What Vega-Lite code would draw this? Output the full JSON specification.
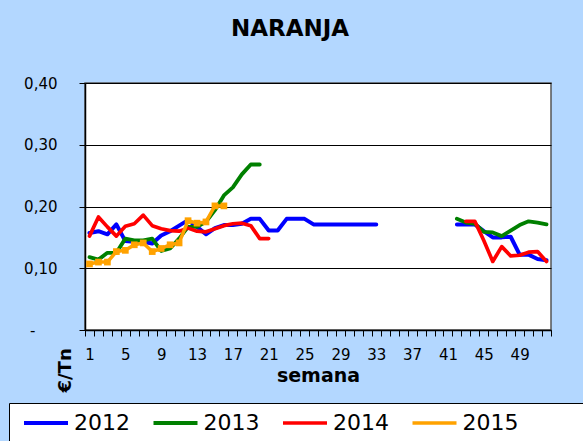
{
  "$schema": "https://vega.github.io/schema/vega-lite/v6.json",
  "width": 466,
  "height": 247,
  "autosize": {"type": "none"},
  "padding": {"left": 85, "top": 83, "right": 32, "bottom": 111},
  "background": "#B3D7FF",
  "title": {"text": "NARANJA", "font": "DejaVu Sans", "fontSize": 23, "fontWeight": "bold", "color": "black", "anchor": "middle", "dx": -28, "offset": 17, "baseline": "alphabetic"},
  "config": {
    "font": "DejaVu Sans",
    "view": {"fill": "white", "stroke": "#555555", "strokeWidth": 1.5},
    "legend": {
      "orient": "none",
      "direction": "horizontal",
      "padding": 9,
      "symbolType": "stroke",
      "symbolSize": 1936,
      "symbolOffset": 4,
      "clipHeight": 22,
      "labelFont": "DejaVu Sans",
      "labelFontSize": 22,
      "labelColor": "black",
      "labelOffset": 4,
      "columnPadding": 17.5,
      "fillColor": "white",
      "strokeColor": "black",
      "titleOrient": "right",
      "titlePadding": 110,
      "titleFontSize": 10
    }
  },
  "data": {"values": [
    {"year": "2012", "part": 1, "week": 1, "price": 0.157},
    {"year": "2012", "part": 1, "week": 2, "price": 0.160},
    {"year": "2012", "part": 1, "week": 3, "price": 0.155},
    {"year": "2012", "part": 1, "week": 4, "price": 0.171},
    {"year": "2012", "part": 1, "week": 5, "price": 0.144},
    {"year": "2012", "part": 1, "week": 6, "price": 0.143},
    {"year": "2012", "part": 1, "week": 7, "price": 0.143},
    {"year": "2012", "part": 1, "week": 8, "price": 0.140},
    {"year": "2012", "part": 1, "week": 9, "price": 0.153},
    {"year": "2012", "part": 1, "week": 10, "price": 0.160},
    {"year": "2012", "part": 1, "week": 11, "price": 0.169},
    {"year": "2012", "part": 1, "week": 12, "price": 0.178},
    {"year": "2012", "part": 1, "week": 13, "price": 0.167},
    {"year": "2012", "part": 1, "week": 14, "price": 0.155},
    {"year": "2012", "part": 1, "week": 15, "price": 0.165},
    {"year": "2012", "part": 1, "week": 16, "price": 0.170},
    {"year": "2012", "part": 1, "week": 17, "price": 0.170},
    {"year": "2012", "part": 1, "week": 18, "price": 0.172},
    {"year": "2012", "part": 1, "week": 19, "price": 0.180},
    {"year": "2012", "part": 1, "week": 20, "price": 0.180},
    {"year": "2012", "part": 1, "week": 21, "price": 0.161},
    {"year": "2012", "part": 1, "week": 22, "price": 0.161},
    {"year": "2012", "part": 1, "week": 23, "price": 0.180},
    {"year": "2012", "part": 1, "week": 24, "price": 0.180},
    {"year": "2012", "part": 1, "week": 25, "price": 0.180},
    {"year": "2012", "part": 1, "week": 26, "price": 0.171},
    {"year": "2012", "part": 1, "week": 27, "price": 0.171},
    {"year": "2012", "part": 1, "week": 28, "price": 0.171},
    {"year": "2012", "part": 1, "week": 29, "price": 0.171},
    {"year": "2012", "part": 1, "week": 30, "price": 0.171},
    {"year": "2012", "part": 1, "week": 31, "price": 0.171},
    {"year": "2012", "part": 1, "week": 32, "price": 0.171},
    {"year": "2012", "part": 1, "week": 33, "price": 0.171},
    {"year": "2012", "part": 2, "week": 42, "price": 0.171},
    {"year": "2012", "part": 2, "week": 43, "price": 0.171},
    {"year": "2012", "part": 2, "week": 44, "price": 0.171},
    {"year": "2012", "part": 2, "week": 45, "price": 0.160},
    {"year": "2012", "part": 2, "week": 46, "price": 0.150},
    {"year": "2012", "part": 2, "week": 47, "price": 0.150},
    {"year": "2012", "part": 2, "week": 48, "price": 0.151},
    {"year": "2012", "part": 2, "week": 49, "price": 0.122},
    {"year": "2012", "part": 2, "week": 50, "price": 0.122},
    {"year": "2012", "part": 2, "week": 51, "price": 0.115},
    {"year": "2012", "part": 2, "week": 52, "price": 0.113},
    {"year": "2013", "part": 1, "week": 1, "price": 0.118},
    {"year": "2013", "part": 1, "week": 2, "price": 0.114},
    {"year": "2013", "part": 1, "week": 3, "price": 0.125},
    {"year": "2013", "part": 1, "week": 4, "price": 0.125},
    {"year": "2013", "part": 1, "week": 5, "price": 0.148},
    {"year": "2013", "part": 1, "week": 6, "price": 0.145},
    {"year": "2013", "part": 1, "week": 7, "price": 0.145},
    {"year": "2013", "part": 1, "week": 8, "price": 0.148},
    {"year": "2013", "part": 1, "week": 9, "price": 0.128},
    {"year": "2013", "part": 1, "week": 10, "price": 0.132},
    {"year": "2013", "part": 1, "week": 11, "price": 0.148},
    {"year": "2013", "part": 1, "week": 12, "price": 0.167},
    {"year": "2013", "part": 1, "week": 13, "price": 0.167},
    {"year": "2013", "part": 1, "week": 14, "price": 0.175},
    {"year": "2013", "part": 1, "week": 15, "price": 0.194},
    {"year": "2013", "part": 1, "week": 16, "price": 0.218},
    {"year": "2013", "part": 1, "week": 17, "price": 0.231},
    {"year": "2013", "part": 1, "week": 18, "price": 0.252},
    {"year": "2013", "part": 1, "week": 19, "price": 0.268},
    {"year": "2013", "part": 1, "week": 20, "price": 0.268},
    {"year": "2013", "part": 2, "week": 42, "price": 0.180},
    {"year": "2013", "part": 2, "week": 43, "price": 0.174},
    {"year": "2013", "part": 2, "week": 44, "price": 0.172},
    {"year": "2013", "part": 2, "week": 45, "price": 0.159},
    {"year": "2013", "part": 2, "week": 46, "price": 0.158},
    {"year": "2013", "part": 2, "week": 47, "price": 0.152},
    {"year": "2013", "part": 2, "week": 48, "price": 0.161},
    {"year": "2013", "part": 2, "week": 49, "price": 0.170},
    {"year": "2013", "part": 2, "week": 50, "price": 0.176},
    {"year": "2013", "part": 2, "week": 51, "price": 0.174},
    {"year": "2013", "part": 2, "week": 52, "price": 0.171},
    {"year": "2014", "part": 1, "week": 1, "price": 0.152},
    {"year": "2014", "part": 1, "week": 2, "price": 0.183},
    {"year": "2014", "part": 1, "week": 3, "price": 0.167},
    {"year": "2014", "part": 1, "week": 4, "price": 0.152},
    {"year": "2014", "part": 1, "week": 5, "price": 0.168},
    {"year": "2014", "part": 1, "week": 6, "price": 0.172},
    {"year": "2014", "part": 1, "week": 7, "price": 0.186},
    {"year": "2014", "part": 1, "week": 8, "price": 0.169},
    {"year": "2014", "part": 1, "week": 9, "price": 0.164},
    {"year": "2014", "part": 1, "week": 10, "price": 0.161},
    {"year": "2014", "part": 1, "week": 11, "price": 0.160},
    {"year": "2014", "part": 1, "week": 12, "price": 0.165},
    {"year": "2014", "part": 1, "week": 13, "price": 0.160},
    {"year": "2014", "part": 1, "week": 14, "price": 0.159},
    {"year": "2014", "part": 1, "week": 15, "price": 0.164},
    {"year": "2014", "part": 1, "week": 16, "price": 0.169},
    {"year": "2014", "part": 1, "week": 17, "price": 0.172},
    {"year": "2014", "part": 1, "week": 18, "price": 0.173},
    {"year": "2014", "part": 1, "week": 19, "price": 0.169},
    {"year": "2014", "part": 1, "week": 20, "price": 0.148},
    {"year": "2014", "part": 1, "week": 21, "price": 0.148},
    {"year": "2014", "part": 2, "week": 43, "price": 0.176},
    {"year": "2014", "part": 2, "week": 44, "price": 0.176},
    {"year": "2014", "part": 2, "week": 45, "price": 0.145},
    {"year": "2014", "part": 2, "week": 46, "price": 0.111},
    {"year": "2014", "part": 2, "week": 47, "price": 0.135},
    {"year": "2014", "part": 2, "week": 48, "price": 0.120},
    {"year": "2014", "part": 2, "week": 49, "price": 0.121},
    {"year": "2014", "part": 2, "week": 50, "price": 0.126},
    {"year": "2014", "part": 2, "week": 51, "price": 0.127},
    {"year": "2014", "part": 2, "week": 52, "price": 0.111},
    {"year": "2015", "part": 1, "week": 1, "price": 0.107},
    {"year": "2015", "part": 1, "week": 2, "price": 0.110},
    {"year": "2015", "part": 1, "week": 3, "price": 0.110},
    {"year": "2015", "part": 1, "week": 4, "price": 0.127},
    {"year": "2015", "part": 1, "week": 5, "price": 0.129},
    {"year": "2015", "part": 1, "week": 6, "price": 0.138},
    {"year": "2015", "part": 1, "week": 7, "price": 0.141},
    {"year": "2015", "part": 1, "week": 8, "price": 0.127},
    {"year": "2015", "part": 1, "week": 9, "price": 0.132},
    {"year": "2015", "part": 1, "week": 10, "price": 0.138},
    {"year": "2015", "part": 1, "week": 11, "price": 0.141},
    {"year": "2015", "part": 1, "week": 12, "price": 0.177},
    {"year": "2015", "part": 1, "week": 13, "price": 0.173},
    {"year": "2015", "part": 1, "week": 14, "price": 0.175},
    {"year": "2015", "part": 1, "week": 15, "price": 0.201},
    {"year": "2015", "part": 1, "week": 16, "price": 0.201}
  ]},
  "encoding": {
    "x": {
      "field": "week",
      "type": "quantitative",
      "scale": {"domain": [0.5, 52.5], "nice": false, "zero": false},
      "axis": {
        "values": [0.5, 1.5, 2.5, 3.5, 4.5, 5.5, 6.5, 7.5, 8.5, 9.5, 10.5, 11.5, 12.5, 13.5, 14.5, 15.5, 16.5, 17.5, 18.5, 19.5, 20.5, 21.5, 22.5, 23.5, 24.5, 25.5, 26.5, 27.5, 28.5, 29.5, 30.5, 31.5, 32.5, 33.5, 34.5, 35.5, 36.5, 37.5, 38.5, 39.5, 40.5, 41.5, 42.5, 43.5, 44.5, 45.5, 46.5, 47.5, 48.5, 49.5, 50.5, 51.5, 52.5],
        "labelExpr": "((datum.value - 0.5) % 4 == 0 && datum.value < 52) ? format(datum.value + 0.5, 'd') : ''",
        "labelOffset": 4.5,
        "labelOverlap": false,
        "labelFlush": false,
        "labelBound": false,
        "labelFont": "DejaVu Sans",
        "labelFontSize": 15,
        "labelColor": "black",
        "labelPadding": 11,
        "tickSize": 6,
        "tickColor": "black",
        "domainColor": "black",
        "domainWidth": 1.5,
        "grid": false,
        "title": "semana",
        "titleFont": "DejaVu Sans",
        "titleFontSize": 19,
        "titleFontWeight": "bold",
        "titleColor": "black",
        "titleBaseline": "alphabetic",
        "titleY": 51
      }
    },
    "y": {
      "field": "price",
      "type": "quantitative",
      "scale": {"domain": [0, 0.4], "nice": false},
      "axis": {
        "values": [0, 0.1, 0.2, 0.3, 0.4],
        "labelExpr": "datum.value == 0 ? '-' : replace(format(datum.value, '.2f'), '.', ',')",
        "labelFont": "DejaVu Sans",
        "labelFontSize": 15,
        "labelColor": "black",
        "labelPadding": {"condition": {"test": "datum.value == 0", "value": 44}, "value": 22},
        "tickSize": 6,
        "tickColor": "black",
        "domainColor": "black",
        "domainWidth": 1.5,
        "grid": true,
        "gridColor": "black",
        "gridOpacity": 1,
        "gridWidth": 1,
        "title": "€/Tn",
        "titleFont": "DejaVu Sans",
        "titleFontSize": 18,
        "titleFontWeight": "bold",
        "titleColor": "black",
        "titleAngle": 270,
        "titleAlign": "left",
        "titleBaseline": "middle",
        "titleX": -20,
        "titleY": 309
      }
    }
  },
  "layer": [
    {
      "mark": {"type": "line", "strokeCap": "round", "strokeJoin": "round"},
      "encoding": {
        "color": {
          "field": "year",
          "type": "ordinal",
          "scale": {"domain": ["2012", "2013", "2014", "2015"], "range": ["#0000FF", "#008000", "#FF0000", "#FFA200"]},
          "legend": {"title": "\u00a0", "legendX": -76, "legendY": 320}
        },
        "strokeWidth": {
          "field": "year",
          "type": "ordinal",
          "scale": {"domain": ["2012", "2013", "2014", "2015"], "range": [4, 3.5, 6, 6]},
          "legend": {"title": "\u00a0", "legendX": -76, "legendY": 320}
        },
        "detail": {"field": "part", "type": "nominal"}
      }
    },
    {
      "transform": [{"filter": "datum.year == '2015'"}],
      "mark": {"type": "square", "color": "#FFA200", "size": 45, "opacity": 1}
    }
  ]
}
